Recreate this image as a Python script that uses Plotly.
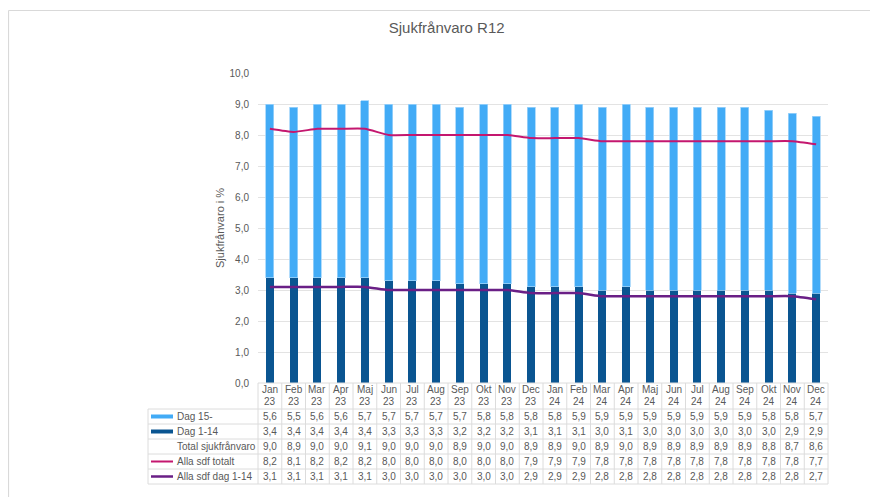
import plotly.graph_objects as go

# ---------------- data ----------------
months = ["Jan", "Feb", "Mar", "Apr", "Maj", "Jun", "Jul", "Aug", "Sep", "Okt", "Nov", "Dec",
          "Jan", "Feb", "Mar", "Apr", "Maj", "Jun", "Jul", "Aug", "Sep", "Okt", "Nov", "Dec"]
years = ["23"] * 12 + ["24"] * 12
dag15 = [5.6, 5.5, 5.6, 5.6, 5.7, 5.7, 5.7, 5.7, 5.7, 5.8, 5.8, 5.8,
         5.8, 5.9, 5.9, 5.9, 5.9, 5.9, 5.9, 5.9, 5.9, 5.8, 5.8, 5.7]
dag1_14 = [3.4, 3.4, 3.4, 3.4, 3.4, 3.3, 3.3, 3.3, 3.2, 3.2, 3.2, 3.1,
           3.1, 3.1, 3.0, 3.1, 3.0, 3.0, 3.0, 3.0, 3.0, 3.0, 2.9, 2.9]
total = [9.0, 8.9, 9.0, 9.0, 9.1, 9.0, 9.0, 9.0, 8.9, 9.0, 9.0, 8.9,
         8.9, 9.0, 8.9, 9.0, 8.9, 8.9, 8.9, 8.9, 8.9, 8.8, 8.7, 8.6]
alla_tot = [8.2, 8.1, 8.2, 8.2, 8.2, 8.0, 8.0, 8.0, 8.0, 8.0, 8.0, 7.9,
            7.9, 7.9, 7.8, 7.8, 7.8, 7.8, 7.8, 7.8, 7.8, 7.8, 7.8, 7.7]
alla_1_14 = [3.1, 3.1, 3.1, 3.1, 3.1, 3.0, 3.0, 3.0, 3.0, 3.0, 3.0, 2.9,
             2.9, 2.9, 2.8, 2.8, 2.8, 2.8, 2.8, 2.8, 2.8, 2.8, 2.8, 2.7]
row_labels = ["Dag 15-", "Dag 1-14", "Total sjukfrånvaro", "Alla sdf totalt", "Alla sdf dag 1-14"]
title_text = "Sjukfrånvaro R12"
ytitle = "Sjukfrånvaro i %"

# ---------------- styles ----------------
C_LIGHT = "#42abf6"
C_DARK = "#0a5591"
C_PINK = "#c4176f"
C_PURPLE = "#6a1f86"
C_TEXT = "#595959"
C_GRID = "#e3e3e3"
C_TAB = "#dcdcdc"
FONT = "Liberation Sans, Arial, sans-serif"

OFF = 8  # page body margin
WIN_W, WIN_H = 878, 497
W, H = WIN_W - OFF, WIN_H - OFF
# target (window) pixel positions of the plot area
TPL, TPR, TPT, TPB = 258, 828, 73, 383
PL, PR, PT, PB = TPL - OFF, TPR - OFF, TPT - OFF, TPB - OFF


def px(X):
    """window pixel x -> paper x"""
    return (X - TPL) / (TPR - TPL)


def py(Y):
    """window pixel y -> paper y"""
    return (TPB - Y) / (TPB - TPT)


n = len(months)
xs = list(range(n))

fig = go.Figure()
fig.add_trace(go.Bar(x=xs, y=dag1_14, name=row_labels[1], marker=dict(color=C_DARK, line=dict(width=0)),
                     width=0.34))
fig.add_trace(go.Bar(x=xs, y=dag15, name=row_labels[0],
                     marker=dict(color=C_LIGHT, line=dict(width=0.8, color="#9fd3fa")), width=0.34))
fig.add_trace(go.Scatter(x=xs, y=alla_tot, name=row_labels[3], mode="lines",
                         line=dict(color=C_PINK, width=2, shape="spline", smoothing=0.5)))
fig.add_trace(go.Scatter(x=xs, y=alla_1_14, name=row_labels[4], mode="lines",
                         line=dict(color=C_PURPLE, width=2.5, shape="spline", smoothing=0.5)))

shapes = []
ann = []

# outer frame (top and left)
shapes.append(dict(type="line", xref="paper", yref="paper", x0=px(8.5), x1=px(WIN_W + 5), y0=py(10.5), y1=py(10.5),
                   line=dict(color="#d9d9d9", width=1.2)))
shapes.append(dict(type="line", xref="paper", yref="paper", x0=px(8.5), x1=px(8.5), y0=py(10.5), y1=py(WIN_H + 5),
                   line=dict(color="#d9d9d9", width=1.2)))

# data table grid
row_bounds = [383, 409, 424, 439, 454, 469, 484]
TL = 148
for i in range(n + 1):
    shapes.append(dict(type="line", xref="paper", yref="paper", x0=i / n, x1=i / n,
                       y0=py(row_bounds[0]), y1=py(row_bounds[-1]), line=dict(color=C_TAB, width=1)))
for k, Y in enumerate(row_bounds):
    x0 = px(TPL) if k == 0 else px(TL)
    shapes.append(dict(type="line", xref="paper", yref="paper", x0=x0, x1=1, y0=py(Y), y1=py(Y),
                       line=dict(color=C_TAB, width=1)))
shapes.append(dict(type="line", xref="paper", yref="paper", x0=px(TL), x1=px(TL),
                   y0=py(row_bounds[1]), y1=py(row_bounds[-1]), line=dict(color=C_TAB, width=1)))

# header labels
for i in xs:
    ann.append(dict(x=i, xref="x", y=py(390), yref="paper", text=months[i], showarrow=False,
                    font=dict(size=10, color=C_TEXT, family=FONT), xanchor="center", yanchor="middle"))
    ann.append(dict(x=i, xref="x", y=py(401), yref="paper", text=years[i], showarrow=False,
                    font=dict(size=10, color=C_TEXT, family=FONT), xanchor="center", yanchor="middle"))

rows = [dag15, dag1_14, total, alla_tot, alla_1_14]
for r, vals in enumerate(rows):
    yc = (row_bounds[r + 1] + row_bounds[r + 2]) / 2
    for i in xs:
        ann.append(dict(x=i, xref="x", y=py(yc), yref="paper", text=f"{vals[i]:.1f}".replace(".", ","),
                        showarrow=False, font=dict(size=10, color=C_TEXT, family=FONT),
                        xanchor="center", yanchor="middle"))
    ann.append(dict(x=px(175), xref="paper", y=py(yc), yref="paper", text=row_labels[r], showarrow=False,
                    font=dict(size=10, color=C_TEXT, family=FONT), xanchor="left", yanchor="middle"))

# legend keys in table
key_specs = [(C_LIGHT, 4), (C_DARK, 4), (None, 0), (C_PINK, 2), (C_PURPLE, 2.5)]
for r, (col, wdt) in enumerate(key_specs):
    if col is None:
        continue
    yc = (row_bounds[r + 1] + row_bounds[r + 2]) / 2
    shapes.append(dict(type="line", xref="paper", yref="paper", x0=px(151), x1=px(173), y0=py(yc), y1=py(yc),
                       line=dict(color=col, width=wdt)))

# y axis title
ann.append(dict(x=px(220), xref="paper", y=0.5, yref="paper", text=ytitle, textangle=-90, showarrow=False,
                font=dict(size=11, color=C_TEXT, family=FONT), xanchor="center", yanchor="middle"))

fig.update_layout(
    width=W, height=H,
    margin=dict(l=PL, r=W - PR, t=PT, b=H - PB, pad=0),
    paper_bgcolor="white", plot_bgcolor="white",
    barmode="stack", bargap=0.66,
    showlegend=False,
    separators=", ",
    font=dict(family=FONT, color=C_TEXT, size=10),
    title=dict(text=title_text, x=(446.7 - OFF) / W, xanchor="center", y=1 - (28 - OFF) / H, yanchor="middle",
               font=dict(size=15, color=C_TEXT, family=FONT)),
    xaxis=dict(range=[-0.5, n - 0.5], showticklabels=False, showgrid=False, zeroline=False,
               showline=False, ticks=""),
    yaxis=dict(range=[0, 10], dtick=1, tickformat=".1f", showgrid=True, gridcolor=C_GRID, gridwidth=1,
               zeroline=False, showline=False, ticks="", tickfont=dict(size=10, color=C_TEXT, family=FONT),
               ticklabelstandoff=8),
    shapes=shapes,
    annotations=ann,
)

fig.write_html("out.html")
